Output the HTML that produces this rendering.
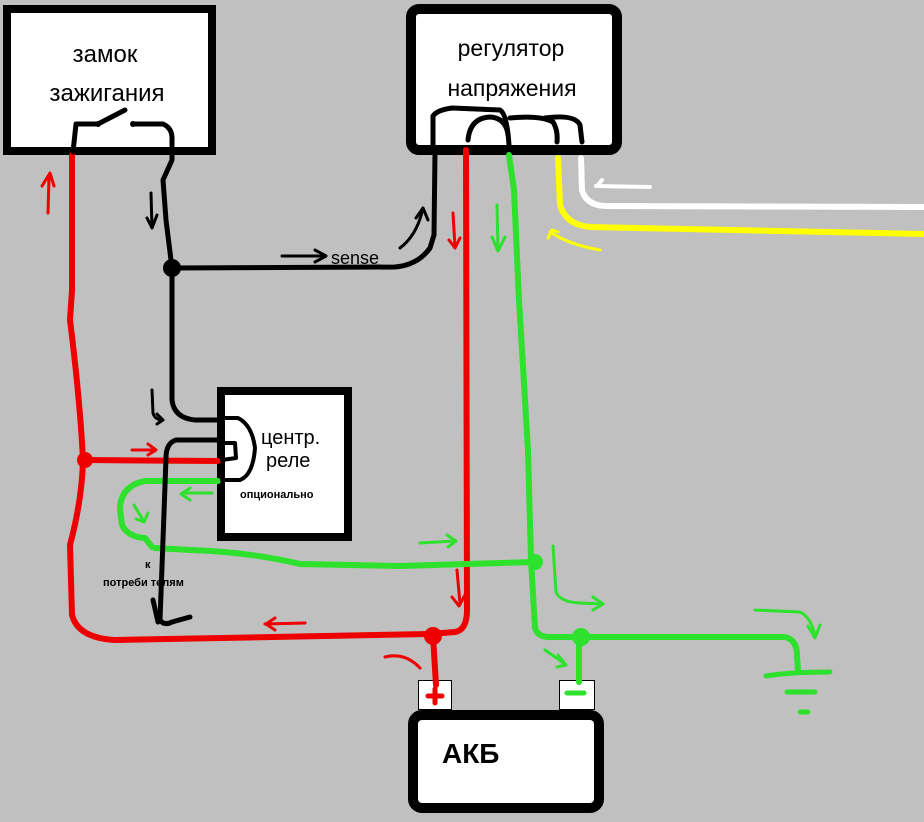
<!DOCTYPE html>
<html><head><meta charset="utf-8"><style>
html,body{margin:0;padding:0;background:#c0c0c0;}
svg{display:block}
text{font-family:"Liberation Sans",sans-serif;fill:#000}
</style></head><body>
<svg width="924" height="822" viewBox="0 0 924 822" xmlns="http://www.w3.org/2000/svg">
<rect width="924" height="822" fill="#c0c0c0"/>
<!-- boxes -->
<rect x="7" y="9" width="205" height="142" fill="#fff" stroke="#000" stroke-width="8"/>
<rect x="411" y="9" width="206" height="141" rx="8" fill="#fff" stroke="#000" stroke-width="10"/>
<rect x="221" y="391" width="127" height="146" fill="#fff" stroke="#000" stroke-width="8"/>
<rect x="413" y="715" width="186" height="93" rx="9" fill="#fff" stroke="#000" stroke-width="10"/>
<rect x="418.5" y="680.5" width="33" height="29" fill="#fff" stroke="#000" stroke-width="1"/>
<rect x="559.5" y="680.5" width="35" height="29" fill="#fff" stroke="#000" stroke-width="1"/>

<g fill="none" stroke-linecap="round" stroke-linejoin="round">
<!-- white & yellow -->
<path d="M581,158 L582,190 Q586,205 605,206 L924,207" stroke="#fff" stroke-width="6"/>
<path d="M598,185 L602,180 M596,186 L650,187" stroke="#fff" stroke-width="4"/>
<path d="M558,158 L560,205 Q566,225 590,227 L924,234" stroke="#ff0" stroke-width="6"/>
<path d="M548,238 L552,230 L558,232 M550,232 Q570,245 600,250" stroke="#ff0" stroke-width="3"/>

<!-- red -->
<path d="M72,155 L72,290 L70,320 Q80,400 83,460 Q82,500 70,545 L72,615 Q78,638 115,640 L430,634 L455,632 Q467,630 467,610 L466,150" stroke="#e00" stroke-width="6"/>
<path d="M85,460 L218,461" stroke="#e00" stroke-width="6"/>
<path d="M433,636 L436,685" stroke="#e00" stroke-width="6"/>
<path d="M48,213 L49,178 M42,186 L50,173 L54,186" stroke="#e00" stroke-width="3"/>
<path d="M132,450 L155,450 M148,444 L156,450 L148,455" stroke="#e00" stroke-width="3"/>
<path d="M453,213 L455,247 M449,240 L455,248 L460,238" stroke="#e00" stroke-width="3"/>
<path d="M457,570 L460,604 M452,597 L459,606 L465,595" stroke="#e00" stroke-width="3"/>
<path d="M305,623 L265,624 M275,618 L266,624 L275,630" stroke="#e00" stroke-width="3"/>
<path d="M385,657 Q405,652 420,668" stroke="#e00" stroke-width="3"/>
<circle cx="85" cy="460" r="8" fill="#e00" stroke="none"/>
<circle cx="433" cy="636" r="9" fill="#e00" stroke="none"/>

<!-- green -->
<path d="M509,155 L514,190 L519,300 L528,450 L531,560 L535,628 Q538,638 552,637 L785,637 Q797,640 797,655 L798,670" stroke="#2de12d" stroke-width="6"/>
<path d="M155,548 L190,550 Q250,552 300,564 L400,566 L535,562" stroke="#2de12d" stroke-width="6"/>
<path d="M218,481 L145,481 Q120,486 120,510 L122,525 Q128,537 145,538 L152,547" stroke="#2de12d" stroke-width="6"/>
<path d="M579,637 L579,682" stroke="#2de12d" stroke-width="6"/>
<path d="M766,676 Q790,672 830,672" stroke="#2de12d" stroke-width="5"/>
<path d="M787,692 L815,692" stroke="#2de12d" stroke-width="5"/>
<path d="M800,712 L808,712" stroke="#2de12d" stroke-width="5"/>
<path d="M567,693 L584,693" stroke="#2de12d" stroke-width="5"/>
<path d="M497,205 L498,250 M492,237 L498,251 L505,237" stroke="#2de12d" stroke-width="3"/>
<path d="M420,543 L455,541 M447,535 L456,541 L448,547" stroke="#2de12d" stroke-width="3"/>
<path d="M553,546 L556,592 Q560,602 580,603 L603,604 M593,597 L603,604 L593,610" stroke="#2de12d" stroke-width="3"/>
<path d="M755,610 L800,612 Q812,618 815,637 M808,626 L815,638 L820,625" stroke="#2de12d" stroke-width="3"/>
<path d="M545,650 L565,664 M558,655 L566,665 L557,667" stroke="#2de12d" stroke-width="3"/>
<path d="M212,493 L183,493 M190,488 L181,494 L190,500" stroke="#2de12d" stroke-width="3"/>
<path d="M134,505 L143,520 M136,519 L144,522 L148,513" stroke="#2de12d" stroke-width="3"/>
<circle cx="535" cy="562" r="8" fill="#2de12d" stroke="none"/>
<circle cx="581" cy="637" r="9" fill="#2de12d" stroke="none"/>

<!-- black -->
<path d="M73,152 L76,124 L98,124 M98,124 L125,110 M133,124 L163,124 Q172,128 172,138 L172,160 L163,180 L166,220 L172,268 L172,400 Q174,418 195,420 L222,420" stroke="#000" stroke-width="5"/>
<path d="M172,268 L395,267 Q418,265 430,248 L434,235 L435,152" stroke="#000" stroke-width="5"/>
<path d="M433,150 L433,116 Q437,110 452,108 L500,110 Q507,114 509,145" stroke="#000" stroke-width="5"/>
<path d="M468,140 Q470,118 490,117 Q506,118 508,135" stroke="#000" stroke-width="5"/>
<path d="M510,118 Q540,115 553,122 Q558,130 557,142" stroke="#000" stroke-width="5"/>
<path d="M545,118 Q575,114 580,125 L582,142" stroke="#000" stroke-width="5"/>
<path d="M222,440 L176,440 Q166,443 166,458 L163,540 L160,620 Q164,626 172,622 L190,617" stroke="#000" stroke-width="5"/>
<path d="M153,600 L158,622" stroke="#000" stroke-width="5"/>
<path d="M222,418 L238,418 Q252,425 255,448 Q253,475 240,480 L222,480" stroke="#000" stroke-width="4"/>
<path d="M222,443 L235,443 L236,458 L222,460" stroke="#000" stroke-width="4"/>
<path d="M151,193 L152,228 M147,218 L152,228 L157,215" stroke="#000" stroke-width="3"/>
<path d="M152,390 L153,413 Q155,420 163,420 M157,414 L163,420 L157,424" stroke="#000" stroke-width="3"/>
<path d="M282,256 L325,256 M315,250 L326,256 L315,262" stroke="#000" stroke-width="3"/>
<path d="M400,248 Q416,236 422,212 M416,218 L423,208 L428,220" stroke="#000" stroke-width="3"/>
<circle cx="172" cy="268" r="9" fill="#000" stroke="none"/>
<circle cx="98" cy="124" r="3" fill="#000" stroke="none"/>
<circle cx="133" cy="124" r="3" fill="#000" stroke="none"/>
</g>

<!-- + / - -->
<path d="M428,696 L442,696 M435,689 L435,703" stroke="#e00" stroke-width="5" stroke-linecap="round"/>

<text x="105" y="62" font-size="24" text-anchor="middle">замок</text>
<text x="107" y="101" font-size="24" text-anchor="middle">зажигания</text>
<text x="511" y="56" font-size="23" text-anchor="middle">регулятор</text>
<text x="512" y="96" font-size="23" text-anchor="middle">напряжения</text>
<text x="331" y="264" font-size="18">sense</text>
<text x="261" y="444" font-size="20">центр.</text>
<text x="266" y="467" font-size="20">реле</text>
<text x="240" y="498" font-size="11" font-weight="bold">опционально</text>
<text x="145" y="568" font-size="11" font-weight="bold">к</text>
<text x="103" y="586" font-size="11" font-weight="bold">потреби  телям</text>
<text x="442" y="763" font-size="28" font-weight="bold">АКБ</text>
</svg>
</body></html>
